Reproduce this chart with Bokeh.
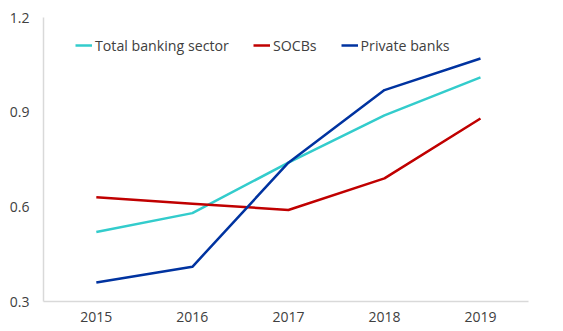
from bokeh.plotting import figure
from bokeh.models import Range1d, FixedTicker, Legend, LegendItem
from bokeh.embed import file_html
from bokeh.resources import INLINE

years = [2015, 2016, 2017, 2018, 2019]
total_banking = [0.52, 0.58, 0.74, 0.89, 1.01]
socbs = [0.63, 0.61, 0.59, 0.69, 0.88]
private_banks = [0.36, 0.41, 0.74, 0.97, 1.07]
y_ticks = [0.3, 0.6, 0.9, 1.2]

FONT = "Open Sans"
TXT = "#404040"

p = figure(frame_width=485, frame_height=284, output_backend="svg", toolbar_location=None,
           x_range=Range1d(2014.45, 2019.5), y_range=Range1d(0.3, 1.2),
           min_border_left=43, min_border_right=27, min_border_top=17, min_border_bottom=29)
p.outline_line_color = None
p.grid.visible = False

r1 = p.line(years, total_banking, line_color="#33CCCC", line_width=2.5)
r2 = p.line(years, socbs, line_color="#C00000", line_width=2.5)
r3 = p.line(years, private_banks, line_color="#0033A0", line_width=2.5)

for ax in (p.xaxis[0], p.yaxis[0]):
    ax.axis_line_color = "#D9D9D9"
    ax.axis_line_width = 1.5
    ax.major_tick_line_color = None
    ax.minor_tick_line_color = None
    ax.major_tick_out = 0
    ax.major_tick_in = 0
    ax.minor_tick_out = 0
    ax.minor_tick_in = 0
    ax.major_label_text_font = FONT
    ax.major_label_text_font_size = "14px"
    ax.major_label_text_color = TXT

p.xaxis[0].ticker = FixedTicker(ticks=years)
p.xaxis[0].major_label_standoff = 10
p.yaxis[0].ticker = FixedTicker(ticks=y_ticks)
p.yaxis[0].major_label_standoff = 14
p.yaxis[0].major_label_overrides = {0.3: "0.3", 0.6: "0.6", 0.9: "0.9", 1.2: "1.2"}

legend = Legend(items=[LegendItem(label="Total banking sector", renderers=[r1]),
                       LegendItem(label="SOCBs", renderers=[r2]),
                       LegendItem(label="Private banks", renderers=[r3])],
                orientation="horizontal", location=(32, 246),
                border_line_color=None, background_fill_alpha=0,
                padding=0, margin=0, spacing=24, glyph_width=17, glyph_height=20,
                label_standoff=3, label_text_font=FONT, label_text_font_size="14.2px",
                label_text_color=TXT)
p.add_layout(legend, "center")

open("out.html", "w").write(file_html(p, INLINE))
